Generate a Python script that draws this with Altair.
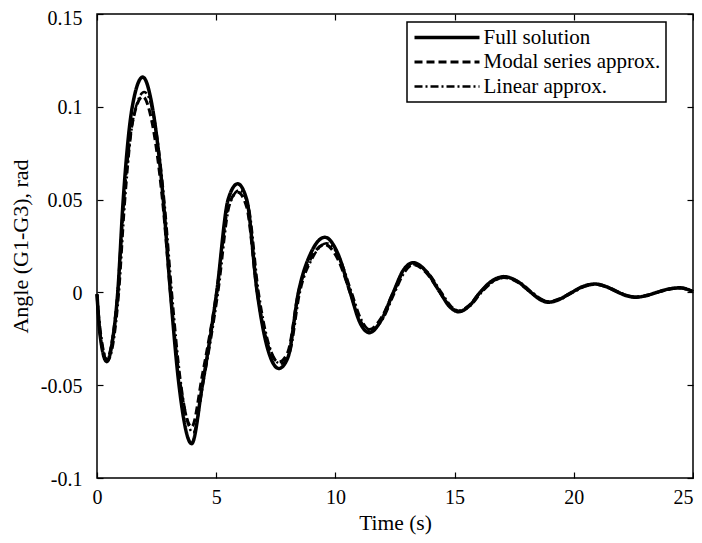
import altair as alt
import pandas as pd

series_names = ["Full solution", "Modal series approx.", "Linear approx."]

t_full = [0.00, 0.12, 0.41, 0.65, 0.87, 1.10, 1.48, 1.92, 2.32, 2.78, 3.08, 3.44, 3.97, 4.42,
          5.02, 5.50, 5.90, 6.28, 6.72, 7.15, 7.63, 8.01, 8.45, 9.00, 9.56, 10.10, 10.62, 11.02,
          11.42, 11.92, 12.43, 12.85, 13.27, 13.83, 14.39, 14.78, 15.16, 15.62, 16.07, 16.57,
          17.07, 17.65, 18.20, 18.57, 18.93, 19.42, 19.91, 20.40, 20.89, 21.38, 21.87, 22.22,
          22.57, 23.02, 23.48, 23.97, 24.45, 25.00]

v_full = [-0.001, -0.022, -0.0373, -0.026, 0.0, 0.050, 0.100, 0.116, 0.100, 0.050, 0.0, -0.050,
          -0.0815, -0.050, 0.0, 0.050, 0.0585, 0.050, 0.0, -0.030, -0.0410, -0.035, 0.0, 0.022,
          0.0297, 0.021, 0.0, -0.016, -0.0217, -0.015, 0.0, 0.012, 0.0160, 0.011, 0.0, -0.0075,
          -0.0104, -0.0072, 0.0, 0.0062, 0.0085, 0.0058, 0.0, -0.0037, -0.0053, -0.0036, 0.0,
          0.0033, 0.0045, 0.0030, 0.0, -0.0018, -0.0026, -0.0018, 0.0, 0.0018, 0.0025, 0.0004]

v_modal = [-0.001, -0.021, -0.036, -0.025, 0.0, 0.0455, 0.091, 0.1055, 0.091, 0.0455, 0.0, -0.0445,
           -0.0725, -0.0445, 0.0, 0.046, 0.054, 0.046, 0.0, -0.0275, -0.0375, -0.032, 0.0, 0.019,
           0.0258, 0.018, 0.0, -0.0147, -0.0200, -0.0138, 0.0, 0.0113, 0.0150, 0.0103, 0.0, -0.0072,
           -0.0100, -0.0069, 0.0, 0.0058, 0.0080, 0.0055, 0.0, -0.0035, -0.0050, -0.0034, 0.0,
           0.0032, 0.0043, 0.0029, 0.0, -0.0017, -0.0025, -0.0017, 0.0, 0.0017, 0.0024, 0.0004]

t_linear = [0.00, 0.15, 0.45, 0.70, 0.92, 1.16, 1.54, 1.98, 2.38, 2.84, 3.14, 3.50, 4.03, 4.48,
            5.08, 5.56, 5.96, 6.34, 6.78, 7.21, 7.69, 8.07, 8.51, 9.06, 9.62, 10.16, 10.68, 11.08,
            11.48, 11.98, 12.49, 12.91, 13.33, 13.89, 14.45, 14.84, 15.22, 15.68, 16.13, 16.63,
            17.13, 17.71, 18.26, 18.63, 18.99, 19.48, 19.97, 20.46, 20.95, 21.44, 21.93, 22.28,
            22.63, 23.08, 23.54, 24.03, 24.51, 25.00]

v_linear = [-0.001, -0.021, -0.0365, -0.026, 0.0, 0.047, 0.095, 0.108, 0.095, 0.047, 0.0, -0.047,
            -0.0755, -0.047, 0.0, 0.047, 0.055, 0.047, 0.0, -0.028, -0.0385, -0.033, 0.0, 0.019,
            0.0265, 0.019, 0.0, -0.0145, -0.0205, -0.0145, 0.0, 0.011, 0.0152, 0.0105, 0.0, -0.0072,
            -0.0101, -0.007, 0.0, 0.0058, 0.0081, 0.0056, 0.0, -0.0035, -0.0051, -0.0035, 0.0,
            0.0031, 0.0044, 0.003, 0.0, -0.0017, -0.0025, -0.0017, 0.0, 0.0017, 0.0024, 0.0004]

x_ticks = [0, 5, 10, 15, 20, 25]
y_ticks = [-0.1, -0.05, 0, 0.05, 0.1, 0.15]

rows = []
for t, v in zip(t_linear, v_linear):
    rows.append({"t": t, "v": v, "s": series_names[2]})
for t, v in zip(t_full, v_modal):
    rows.append({"t": t, "v": v, "s": series_names[1]})
for t, v in zip(t_full, v_full):
    rows.append({"t": t, "v": v, "s": series_names[0]})
df = pd.DataFrame(rows)

FONT = "Liberation Serif"
x_scale = alt.Scale(domain=[0, 25], nice=False, zero=False)
y_scale = alt.Scale(domain=[-0.1, 0.15], nice=False, zero=False)

lines = alt.Chart(df).mark_line(interpolate="monotone", color="black").encode(
    x=alt.X("t:Q", scale=x_scale,
            axis=alt.Axis(values=x_ticks, title="Time (s)", orient="bottom", offset=-6,
                          tickSize=6, domain=False, grid=False, labelPadding=9,
                          titlePadding=5, labelFlush=False, titleFontSize=21.5,
                          labelAlign=alt.condition(alt.datum.value == 25,
                                                   alt.value("right"), alt.value("center")))),
    y=alt.Y("v:Q", scale=y_scale,
            axis=alt.Axis(values=y_ticks, title="Angle (G1-G3), rad", orient="left", offset=-6,
                          tickSize=6, domain=False, grid=False, labelPadding=15,
                          titlePadding=8, labelFlush=False, labelOverlap=False,
                          labelOffset=alt.condition(alt.datum.value == 0.15,
                                                    alt.value(4), alt.value(1)),
                          titleFontSize=22, labelExpr="'' + datum.value")),
    strokeDash=alt.StrokeDash(
        "s:N",
        scale=alt.Scale(domain=series_names, range=[[1, 0], [8, 4], [8, 3, 2, 3]]),
        legend=alt.Legend(title=None, orient="none", legendX=310, legendY=8,
                          symbolType="M-5,0H5", symbolSize=169,
                          symbolStrokeWidth=3, symbolOffset=24.5,
                          symbolStrokeColor="black", symbolFillColor="transparent",
                          labelFont=FONT, labelFontSize=21, labelLimit=400, labelOffset=26,
                          padding=5, rowPadding=2.5,
                          strokeColor="black", fillColor="white", cornerRadius=0,
                          labelColor="black"),
    ),
    strokeWidth=alt.StrokeWidth(
        "s:N", scale=alt.Scale(domain=series_names, range=[3.5, 2.5, 2.5]), legend=None),
)

mirror = alt.Chart(df).mark_point(opacity=0).encode(
    x=alt.X("t:Q", scale=x_scale,
            axis=alt.Axis(values=x_ticks, orient="top", offset=-6, tickSize=6, domain=False,
                          grid=False, labels=False, title="")),
    y=alt.Y("v:Q", scale=y_scale,
            axis=alt.Axis(values=y_ticks, orient="right", offset=-6, tickSize=6, domain=False,
                          grid=False, labels=False, title="")),
)

chart = alt.layer(lines, mirror).resolve_axis(
    x="independent", y="independent"
).properties(
    width=596, height=464,
    padding={"left": 89, "top": 6, "right": 1, "bottom": 57},
    autosize=alt.AutoSizeParams(type="none"),
    background="white",
).configure_view(
    stroke="black", strokeWidth=1.5
).configure_axis(
    labelFont=FONT, titleFont=FONT, labelFontSize=20, titleFontSize=21,
    labelColor="black", titleColor="black", tickColor="black", tickWidth=1.2,
    titleFontWeight="normal"
).configure_legend(
    strokeWidth=1.5
)

chart.save("out.html", embed_options={"renderer": "svg", "actions": False})
